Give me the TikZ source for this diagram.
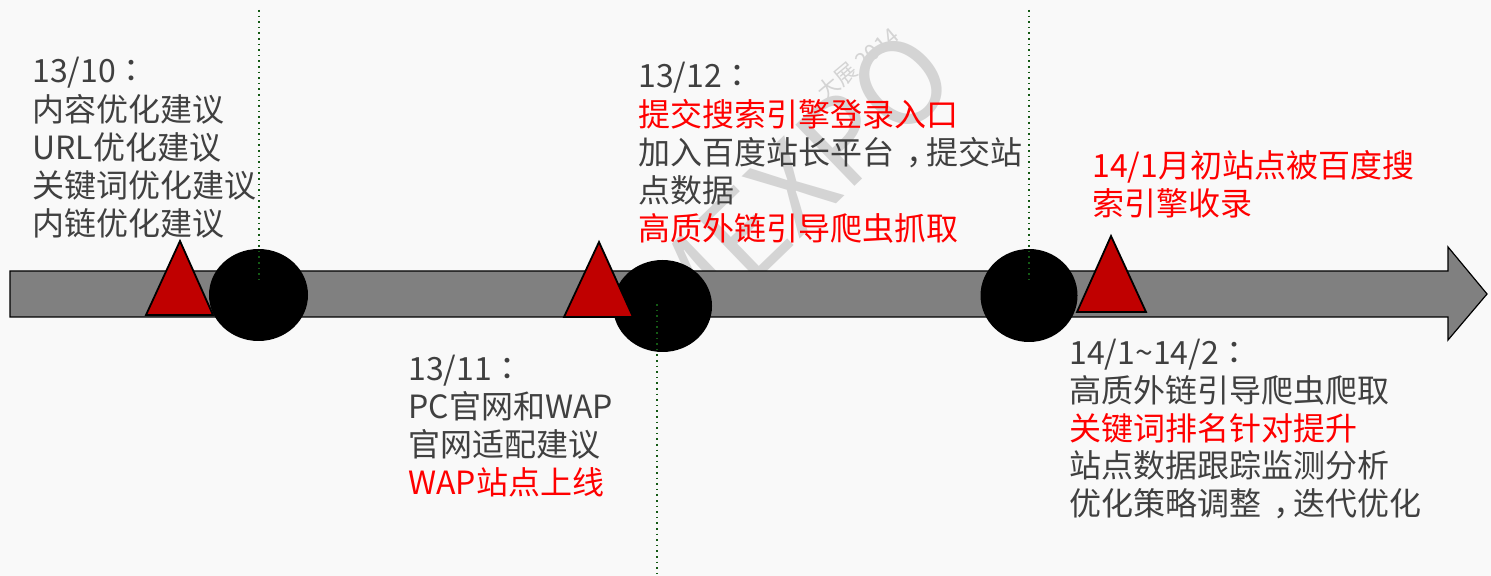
\documentclass[tikz,border=0pt]{standalone}
\usepackage{fontspec}
\setmainfont{Noto Sans CJK SC}
\newfontfamily\tcfont{Noto Sans CJK TC}
\newcommand{\fwcolon}{{\tcfont ：}}
\newcommand{\fwcomma}{\hspace{0.38em}\rlap{，}\hspace{0.62em}}
\definecolor{bgc}{RGB}{249,249,249}
\definecolor{txtgray}{RGB}{64,64,64}
\definecolor{barfill}{RGB}{128,128,128}
\definecolor{trired}{RGB}{192,0,0}
\definecolor{hotred}{RGB}{255,0,0}
\definecolor{dotgreen}{RGB}{20,90,20}
\definecolor{wmgray}{RGB}{212,212,212}
\begin{document}
\begin{tikzpicture}[x=0.5pt,y=-0.5pt,
  txt/.style={anchor=base west,inner sep=0pt,text=txtgray,font=\fontsize{16pt}{19pt}\selectfont},
  bar/.style={fill=barfill,draw=black,line width=0.6pt},
  dot/.style={fill=black},
  tri/.style={fill=trired,draw=black,line width=0.9pt,line join=miter},
  vline/.style={draw=dotgreen,dotted,line width=0.8pt},
  wm/.style={text=wmgray,inner sep=0pt}]
\fill[bgc] (0,0) rectangle (1491,576);
\useasboundingbox (0,0) rectangle (1491,576);

% watermark
\node[wm,rotate=44,font=\fontsize{58pt}{58pt}\selectfont] (wmbig) at (792,188) {MEXPO};
\node[wm,rotate=40,font=\fontsize{11pt}{11pt}\selectfont] (wmsmall) at (858,64) {大展 2014};

% timeline arrow
\draw[bar] (10,271) -- (1448,271) -- (1448,247) -- (1487,294) -- (1448,340) -- (1448,317) -- (10,317) -- cycle;

% milestones
\fill[dot] (258.5,295) ellipse [x radius=24.75pt, y radius=23pt];
\fill[dot] (662.5,306) ellipse [x radius=24.75pt, y radius=23pt];
\fill[dot] (1029,295.5) ellipse [x radius=24.25pt, y radius=23.25pt];

\coordinate (c1t) at (259,10);   \coordinate (c1b) at (259,279);
\coordinate (c2t) at (657,304);  \coordinate (c2b) at (657,576);
\coordinate (c3t) at (1029,10);  \coordinate (c3b) at (1029,279);
\draw[vline] (c1t) -- (c1b);
\draw[vline] (c2t) -- (c2b);
\draw[vline] (c3t) -- (c3b);

\draw[tri] (146,315) -- (180,241) -- (213,315) -- cycle;
\draw[tri] (564,317) -- (599,242) -- (633,317) -- cycle;
\draw[tri] (1077,312) -- (1111,236) -- (1146,312) -- cycle;

% texts
\foreach \t [count=\i from 0] in {13/10\fwcolon,内容优化建议,URL优化建议,关键词优化建议,内链优化建议}
  \node[txt] (a\i) at (32,83+38.2*\i) {\t};
\foreach \t [count=\i from 0] in {13/12\fwcolon,{\color{hotred}提交搜索引擎登录入口},加入百度站长平台\fwcomma 提交站,点数据,{\color{hotred}高质外链引导爬虫抓取}}
  \node[txt] (b\i) at (638,88+38.2*\i) {\t};
\foreach \t [count=\i from 0] in {14/1月初站点被百度搜,索引擎收录}
  \node[txt,text=hotred] (c\i) at (1092,178+38*\i) {\t};
\foreach \t [count=\i from 0] in {13/11\fwcolon,PC官网和WAP,官网适配建议,{\color{hotred}WAP站点上线}}
  \node[txt] (d\i) at (408,380+38.3*\i) {\t};
\foreach \t [count=\i from 0] in {14/1\textasciitilde14/2\fwcolon,高质外链引导爬虫爬取,{\color{hotred}关键词排名针对提升},站点数据跟踪监测分析,优化策略调整\fwcomma 迭代优化}
  \node[txt] (e\i) at (1069,365+37.6*\i) {\t};
\end{tikzpicture}
\end{document}
